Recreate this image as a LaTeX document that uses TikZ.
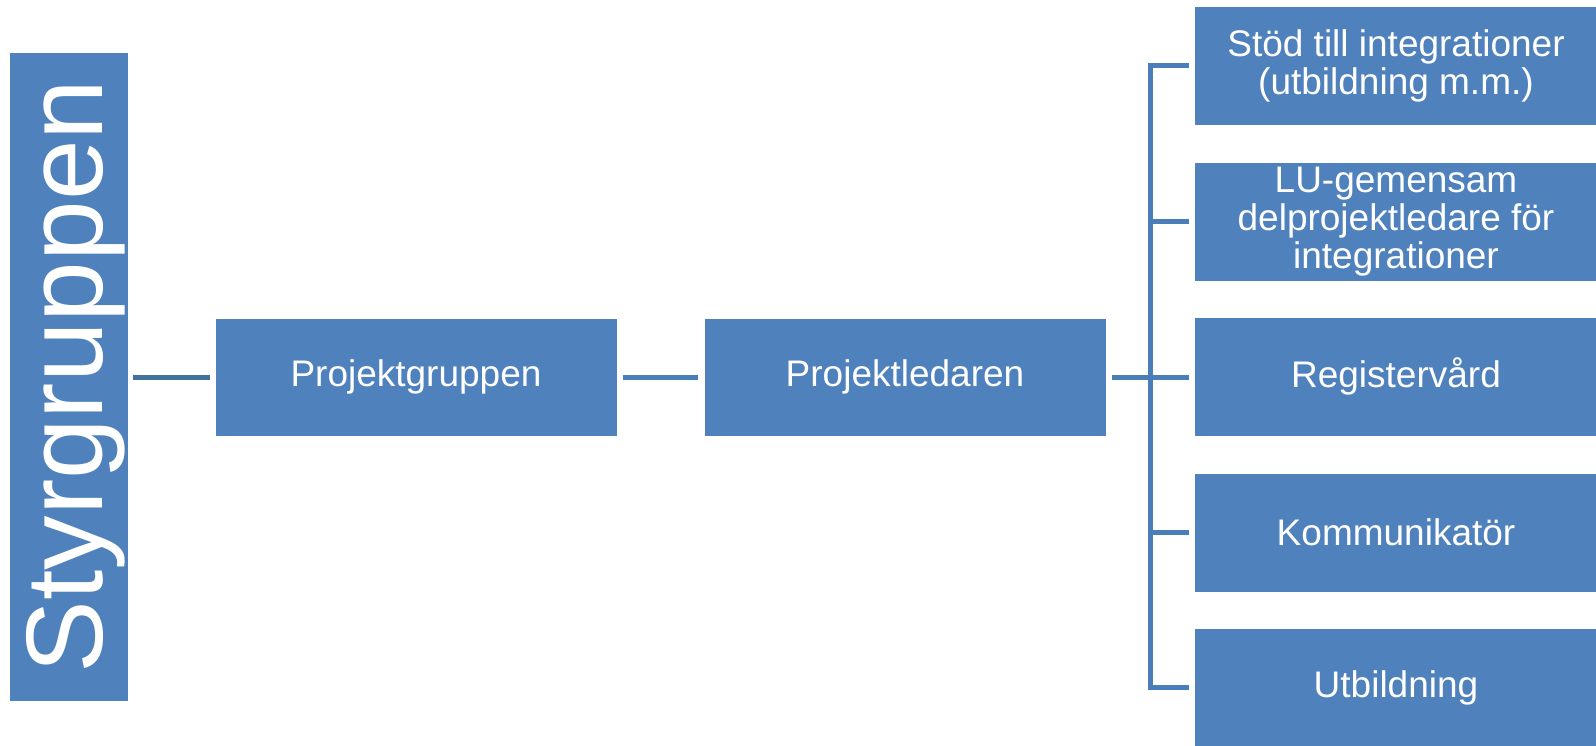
\documentclass[tikz,border=0pt]{standalone}
\usepackage{fontspec}
\setmainfont{Liberation Sans}
\definecolor{boxblue}{HTML}{4F81BD}
\definecolor{lineblue}{HTML}{4A7EBB}
\definecolor{darkline}{HTML}{41719C}
\begin{document}
\begin{tikzpicture}[x=0.5pt,y=-0.5pt,
  box/.style={rectangle, fill=boxblue, draw=white, line width=0.4pt, text=white, inner sep=0pt,
    minimum width=201pt, minimum height=59pt, align=center,
    font=\fontsize{18.5pt}{19pt}\selectfont},
  rbox/.style={box, minimum width=202pt, minimum height=59.5pt},
  conn/.style={draw=lineblue, line width=2.5pt, line cap=butt, line join=miter}]
\useasboundingbox (0,0) rectangle (1596,745);
\fill[white] (0,0) rectangle (1596,745);
% Styrgruppen
\node[box, minimum width=59.5pt, minimum height=324.5pt] (sty) at (68.5,376.5) {};
\node[rotate=90, anchor=base, inner sep=0pt, text=white,
  font=\fontsize{54.5pt}{56pt}\selectfont] (stytext) at (102,376.5) {Styrgruppen};
% middle
\node[box] (pg) at (416,377) {Projektgruppen};
\node[box] (pl) at (905,377) {Projektledaren};
% right column
\node[rbox] (r1) at (1396,65.5) {Stöd till integrationer\\(utbildning m.m.)};
\node[rbox] (r2) at (1396,221.5) {LU-gemensam\\delprojektledare för\\integrationer};
\node[rbox] (r3) at (1396,376.5) {Registervård};
\node[rbox] (r4) at (1396,532.5) {Kommunikatör};
\node[rbox] (r5) at (1396,687.5) {Utbildning};
\coordinate (bus) at (1150.5,0);
% connectors
\draw[conn, draw=darkline, shorten <=2.5pt, shorten >=2.5pt] (sty.east |- pg.west) -- (pg.west);
\draw[conn, shorten <=2.75pt, shorten >=3pt] (pg.east) -- (pl.west);
\draw[conn, shorten <=3pt, shorten >=2.5pt] (pl.east) -- (pl.east -| r3.west);
\draw[conn, shorten <=2.5pt, shorten >=2.5pt] (r1.west) -- (bus |- r1.west) -- (bus |- r5.west) -- (r5.west);
\draw[conn, shorten >=2.5pt] (bus |- r2.west) -- (r2.west);
\draw[conn, shorten >=2.5pt] (bus |- r4.west) -- (r4.west);
\end{tikzpicture}
\end{document}
